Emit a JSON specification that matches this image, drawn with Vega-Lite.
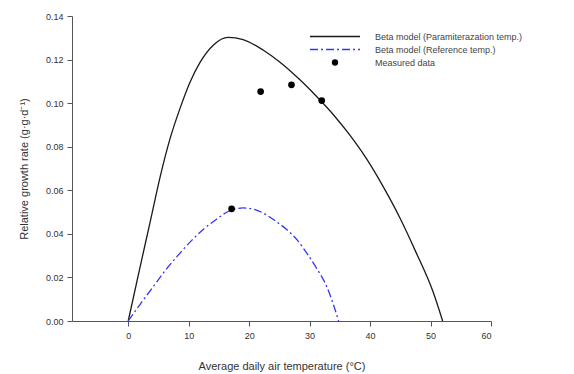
{
  "$schema": "https://vega.github.io/schema/vega-lite/v6.json",
  "width": 419,
  "height": 305,
  "autosize": "none",
  "padding": {"left": 72, "top": 16, "right": 83, "bottom": 53},
  "background": "white",
  "config": {
    "view": {"stroke": null},
    "font": "Liberation Sans",
    "axis": {
      "grid": false,
      "domainColor": "#555",
      "tickColor": "#555",
      "tickSize": 5,
      "labelFontSize": 9,
      "labelColor": "#333",
      "titleFontSize": 11,
      "titleFontWeight": "normal",
      "titleColor": "#333",
      "labelFont": "Liberation Sans",
      "titleFont": "Liberation Sans"
    }
  },
  "datasets": {
    "curves": [
      {"series": "Beta model (Paramiterazation temp.)", "t": 0, "r": 0},
      {"series": "Beta model (Paramiterazation temp.)", "t": 1.8, "r": 0.0228},
      {"series": "Beta model (Paramiterazation temp.)", "t": 3.63, "r": 0.0455},
      {"series": "Beta model (Paramiterazation temp.)", "t": 5.28, "r": 0.0662},
      {"series": "Beta model (Paramiterazation temp.)", "t": 6.93, "r": 0.0838},
      {"series": "Beta model (Paramiterazation temp.)", "t": 8.58, "r": 0.0977},
      {"series": "Beta model (Paramiterazation temp.)", "t": 10.2, "r": 0.1095},
      {"series": "Beta model (Paramiterazation temp.)", "t": 11.9, "r": 0.1188},
      {"series": "Beta model (Paramiterazation temp.)", "t": 14.1, "r": 0.1267},
      {"series": "Beta model (Paramiterazation temp.)", "t": 16.5, "r": 0.1302},
      {"series": "Beta model (Paramiterazation temp.)", "t": 19, "r": 0.1292},
      {"series": "Beta model (Paramiterazation temp.)", "t": 22.3, "r": 0.1244},
      {"series": "Beta model (Paramiterazation temp.)", "t": 25, "r": 0.119},
      {"series": "Beta model (Paramiterazation temp.)", "t": 28.4, "r": 0.1107},
      {"series": "Beta model (Paramiterazation temp.)", "t": 31, "r": 0.1035},
      {"series": "Beta model (Paramiterazation temp.)", "t": 33.9, "r": 0.0948},
      {"series": "Beta model (Paramiterazation temp.)", "t": 36.6, "r": 0.0855},
      {"series": "Beta model (Paramiterazation temp.)", "t": 39.4, "r": 0.0745},
      {"series": "Beta model (Paramiterazation temp.)", "t": 42.1, "r": 0.062},
      {"series": "Beta model (Paramiterazation temp.)", "t": 44.9, "r": 0.0475},
      {"series": "Beta model (Paramiterazation temp.)", "t": 47.6, "r": 0.0315},
      {"series": "Beta model (Paramiterazation temp.)", "t": 50.4, "r": 0.0135},
      {"series": "Beta model (Paramiterazation temp.)", "t": 52, "r": 0},
      {"series": "Beta model (Reference temp.)", "t": 0, "r": 0},
      {"series": "Beta model (Reference temp.)", "t": 2, "r": 0.0078},
      {"series": "Beta model (Reference temp.)", "t": 4.2, "r": 0.016},
      {"series": "Beta model (Reference temp.)", "t": 6.5, "r": 0.0245},
      {"series": "Beta model (Reference temp.)", "t": 8.6, "r": 0.0313},
      {"series": "Beta model (Reference temp.)", "t": 10.5, "r": 0.037},
      {"series": "Beta model (Reference temp.)", "t": 12.4, "r": 0.042},
      {"series": "Beta model (Reference temp.)", "t": 14.5, "r": 0.0465},
      {"series": "Beta model (Reference temp.)", "t": 16.3, "r": 0.0499},
      {"series": "Beta model (Reference temp.)", "t": 19, "r": 0.0519},
      {"series": "Beta model (Reference temp.)", "t": 20.5, "r": 0.0515},
      {"series": "Beta model (Reference temp.)", "t": 22.3, "r": 0.0496},
      {"series": "Beta model (Reference temp.)", "t": 24.3, "r": 0.046},
      {"series": "Beta model (Reference temp.)", "t": 26.2, "r": 0.042},
      {"series": "Beta model (Reference temp.)", "t": 28, "r": 0.037},
      {"series": "Beta model (Reference temp.)", "t": 29.5, "r": 0.0313},
      {"series": "Beta model (Reference temp.)", "t": 31.2, "r": 0.024},
      {"series": "Beta model (Reference temp.)", "t": 32.8, "r": 0.016},
      {"series": "Beta model (Reference temp.)", "t": 34, "r": 0.007},
      {"series": "Beta model (Reference temp.)", "t": 34.8, "r": 0}
    ],
    "measured": [
      {"series": "Measured data", "t": 17.1, "r": 0.0515},
      {"series": "Measured data", "t": 21.9, "r": 0.1053},
      {"series": "Measured data", "t": 27.0, "r": 0.1084},
      {"series": "Measured data", "t": 32.0, "r": 0.1012}
    ]
  },
  "encoding": {
    "x": {
      "field": "t", "type": "quantitative",
      "scale": {"domain": [-9.3, 60], "nice": false, "zero": false},
      "axis": {"values": [0, 10, 20, 30, 40, 50, 60], "title": "Average daily air temperature (°C)", "titlePadding": 20, "labelPadding": 5}
    },
    "y": {
      "field": "r", "type": "quantitative",
      "scale": {"domain": [0, 0.14], "nice": false},
      "axis": {"values": [0, 0.02, 0.04, 0.06, 0.08, 0.1, 0.12, 0.14], "format": ".2f", "title": "Relative growth rate (g·g·d⁻¹)", "titlePadding": 16, "labelPadding": 4}
    },
    "color": {
      "field": "series", "type": "nominal",
      "scale": {
        "domain": ["Beta model (Paramiterazation temp.)", "Beta model (Reference temp.)", "Measured data"],
        "range": ["#1a1a1a", "#3535f5", "#000000"]
      },
      "legend": {
        "title": null,
        "orient": "none",
        "legendX": 238,
        "legendY": 16,
        "labelFontSize": 9,
        "labelColor": "#444",
        "labelFont": "Liberation Sans",
        "rowPadding": 3,
        "labelOffset": 56,
        "encode": {
          "symbols": {
            "update": {
              "x": {"value": 25},
              "shape": {"signal": "datum.value === 'Measured data' ? 'circle' : 'stroke'"},
              "size": {"signal": "datum.value === 'Measured data' ? 40 : 2500"},
              "fill": {"signal": "datum.value === 'Measured data' ? 'black' : 'transparent'"},
              "stroke": {"signal": "datum.value === 'Beta model (Reference temp.)' ? '#3535f5' : '#1a1a1a'"},
              "strokeWidth": {"signal": "datum.value === 'Measured data' ? 0 : 1.3"},
              "strokeDash": {"signal": "datum.value === 'Beta model (Reference temp.)' ? [8,3,2,3] : [1,0]"}
            }
          }
        }
      }
    }
  },
  "layer": [
    {
      "data": {"name": "curves"},
      "transform": [{"filter": "datum.series === 'Beta model (Paramiterazation temp.)'"}],
      "mark": {"type": "line", "interpolate": "monotone", "strokeWidth": 1.3}
    },
    {
      "data": {"name": "curves"},
      "transform": [{"filter": "datum.series === 'Beta model (Reference temp.)'"}],
      "mark": {"type": "line", "interpolate": "monotone", "strokeWidth": 1.3, "strokeDash": [8, 3, 2, 3]}
    },
    {
      "data": {"name": "measured"},
      "mark": {"type": "point", "filled": true, "size": 45, "opacity": 1}
    }
  ]
}
